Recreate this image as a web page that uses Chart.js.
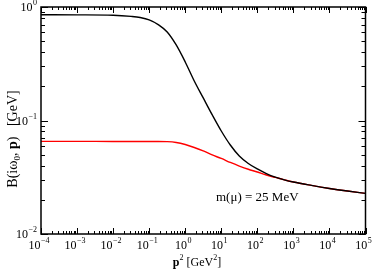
<!DOCTYPE html>
<html><head><meta charset="utf-8">
<script src="https://cdn.jsdelivr.net/npm/chart.js@4.4.1/dist/chart.umd.min.js"></script>
<style>html,body{margin:0;padding:0;background:#fff}#wrap{width:374px;height:272px}</style>
</head><body><div id="wrap"><canvas id="c" width="374" height="272"></canvas></div>
<script>
// ---- data ----
const p2Values = [0.0001, 0.001, 0.01, 0.0316, 0.0562, 0.1, 0.178, 0.316, 0.562, 1, 1.78, 3.16, 5.62, 10, 17.8, 31.6, 56.2, 100, 178, 316, 562, 1000, 3162, 10000, 31623, 100000];
const blackValues = [0.855, 0.853, 0.846, 0.826, 0.808, 0.771, 0.700, 0.602, 0.463, 0.328, 0.223, 0.158, 0.112, 0.0808, 0.0608, 0.0487, 0.0418, 0.0374, 0.0341, 0.0317, 0.0300, 0.0287, 0.0268, 0.0252, 0.0239, 0.0228];
const redValues = [0.0655, 0.0655, 0.0654, 0.0654, 0.0654, 0.0653, 0.0653, 0.0651, 0.0640, 0.0614, 0.0578, 0.0539, 0.0497, 0.0463, 0.0427, 0.0397, 0.0372, 0.0352, 0.0331, 0.0315, 0.0300, 0.0287, 0.0268, 0.0252, 0.0239, 0.0228];
const xTickExponents = [-4, -3, -2, -1, 0, 1, 2, 3, 4, 5];
const yTickExponents = [-2, -1, 0];
const annotationText = 'm(μ) = 25 MeV';

const SERIF = '"Liberation Serif","DejaVu Serif",serif';

function toPoints(xs, ys) { return xs.map((x, i) => ({ x: x, y: ys[i] })); }

function drawPow(ctx, x, y, exp, align) {
  ctx.font = '12px ' + SERIF;
  const wb = ctx.measureText('10').width;
  ctx.font = '8px ' + SERIF;
  const es = String(exp).replace('-', '\u2212');
  const we = ctx.measureText(es).width;
  const total = wb + we + 0.5;
  let x0 = align === 'center' ? x - total / 2 : x - total;
  ctx.textBaseline = 'middle';
  ctx.textAlign = 'left';
  ctx.font = '12px ' + SERIF;
  ctx.fillText('10', x0, y);
  ctx.font = '8px ' + SERIF;
  ctx.fillText(es, x0 + wb + 0.5, y - 5);
}

const framePlugin = {
  id: 'frame',
  afterDraw(chart) {
    const ctx = chart.ctx;
    const a = chart.chartArea;
    const xs = chart.scales.x, ys = chart.scales.y;
    ctx.save();
    ctx.strokeStyle = '#000';
    ctx.fillStyle = '#000';
    ctx.lineWidth = 1;
    ctx.beginPath();
    const xMaxExp = xTickExponents[xTickExponents.length - 1];
    for (let d = xTickExponents[0]; d <= xMaxExp; d++) {
      for (let k = 1; k <= 9; k++) {
        const v = k * Math.pow(10, d);
        if (v > Math.pow(10, xMaxExp) * 1.0001) break;
        const px = Math.round(xs.getPixelForValue(v)) + 0.5;
        const len = k === 1 ? 6 : 3;
        ctx.moveTo(px, a.bottom); ctx.lineTo(px, a.bottom - len);
        ctx.moveTo(px, a.top); ctx.lineTo(px, a.top + len);
      }
    }
    const yMaxExp = yTickExponents[yTickExponents.length - 1];
    for (let d = yTickExponents[0]; d <= yMaxExp; d++) {
      for (let k = 1; k <= 9; k++) {
        const v = k * Math.pow(10, d);
        if (v > Math.pow(10, yMaxExp) * 1.0001) break;
        const py = Math.round(ys.getPixelForValue(v)) + 0.5;
        const len = k === 1 ? 7 : 4;
        ctx.moveTo(a.left, py); ctx.lineTo(a.left + len, py);
        ctx.moveTo(a.right, py); ctx.lineTo(a.right - len, py);
      }
    }
    ctx.stroke();
    ctx.lineWidth = 1.5;
    ctx.strokeRect(a.left, a.top, a.right - a.left, a.bottom - a.top);
    xTickExponents.forEach(e => {
      drawPow(ctx, xs.getPixelForValue(Math.pow(10, e)) - 2, a.bottom + 12, e, 'center');
    });
    yTickExponents.forEach(e => {
      drawPow(ctx, a.left - 4, ys.getPixelForValue(Math.pow(10, e)) + 1, e, 'right');
    });
    // x title
    ctx.textBaseline = 'alphabetic';
    ctx.textAlign = 'left';
    let parts = [
      { t: 'p', f: 'bold 12px ' + SERIF, dy: 0 },
      { t: '2', f: '8px ' + SERIF, dy: -6 },
      { t: ' [GeV', f: '12px ' + SERIF, dy: 0 },
      { t: '2', f: '8px ' + SERIF, dy: -6 },
      { t: ']', f: '12px ' + SERIF, dy: 0 }
    ];
    let w = 0;
    parts.forEach(p => { ctx.font = p.f; p.w = ctx.measureText(p.t).width; w += p.w; });
    let cx = 197 - w / 2;
    parts.forEach(p => { ctx.font = p.f; ctx.fillText(p.t, cx, 266 + p.dy); cx += p.w; });
    // y title
    ctx.save();
    ctx.translate(17, 139);
    ctx.rotate(-Math.PI / 2);
    parts = [
      { t: 'B(iω', f: '14px ' + SERIF, dy: 0 },
      { t: '0', f: '9px ' + SERIF, dy: 3 },
      { t: ', ', f: '14px ' + SERIF, dy: 0 },
      { t: 'p', f: 'bold 14px ' + SERIF, dy: 0 },
      { t: ')   [GeV]', f: '14px ' + SERIF, dy: 0 }
    ];
    w = 0;
    parts.forEach(p => { ctx.font = p.f; p.w = ctx.measureText(p.t).width; w += p.w; });
    cx = -w / 2;
    parts.forEach(p => { ctx.font = p.f; ctx.fillText(p.t, cx, p.dy); cx += p.w; });
    ctx.restore();
    ctx.font = '13px ' + SERIF;
    ctx.fillText(annotationText, 216, 201);
    ctx.restore();
  }
};

new Chart(document.getElementById('c'), {
  type: 'line',
  data: {
    datasets: [
      { data: toPoints(p2Values, blackValues), borderColor: '#000000', borderWidth: 1.4, pointRadius: 0, cubicInterpolationMode: 'monotone', fill: false },
      { data: toPoints(p2Values, redValues), borderColor: '#ff0000', borderWidth: 1.4, pointRadius: 0, cubicInterpolationMode: 'monotone', fill: false }
    ]
  },
  options: {
    responsive: false,
    devicePixelRatio: 1,
    animation: false,
    layout: { padding: { left: 41, right: 8.5, top: 7, bottom: 38 } },
    plugins: { legend: { display: false }, tooltip: { enabled: false } },
    scales: {
      x: { type: 'logarithmic', min: 1e-4, max: 1e5, display: false },
      y: { type: 'logarithmic', min: 1e-2, max: 1, display: false }
    }
  },
  plugins: [framePlugin]
});
</script>
</body></html>
